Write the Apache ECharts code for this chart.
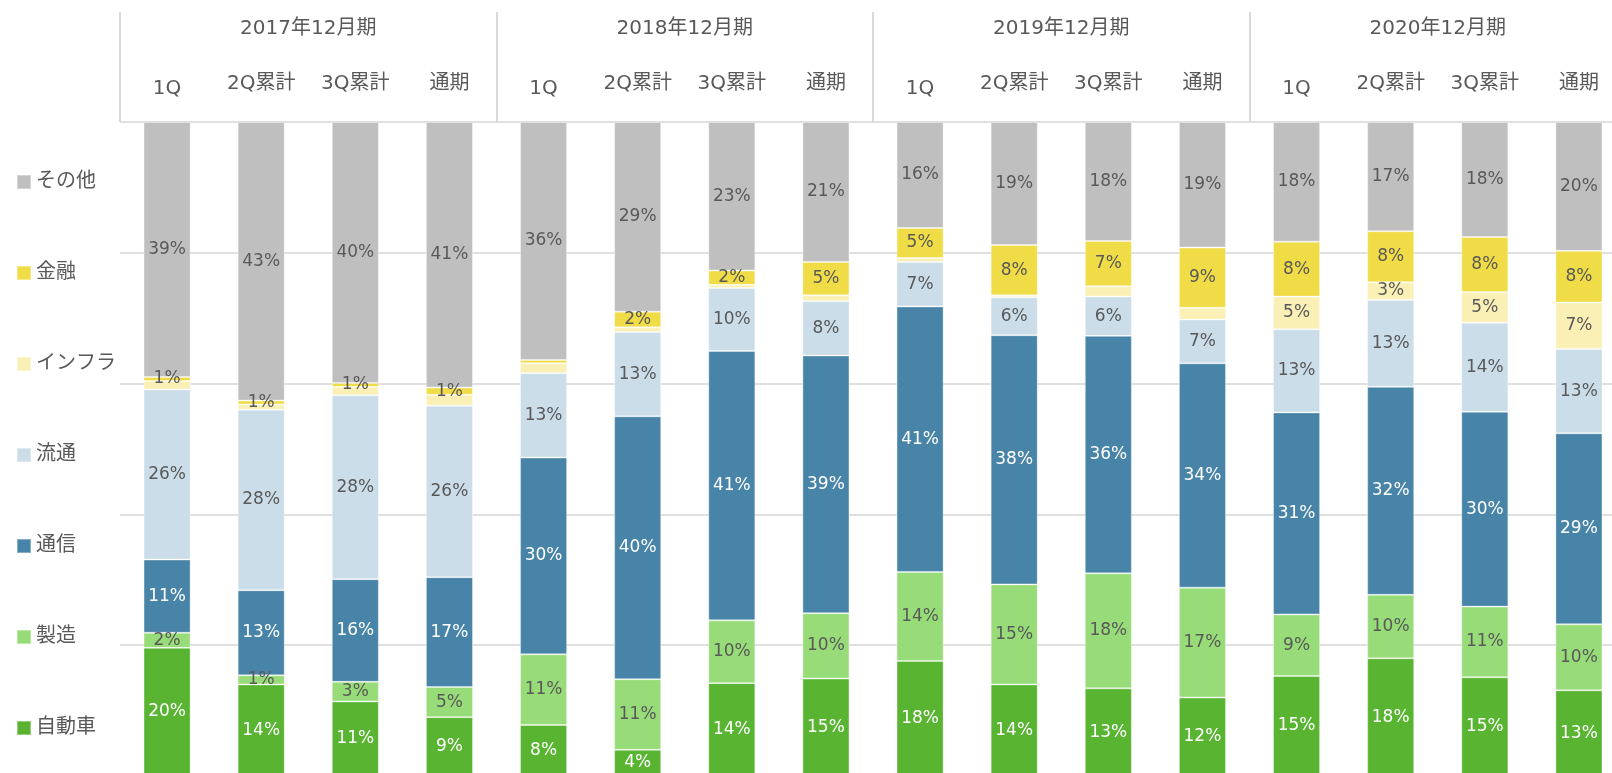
<!DOCTYPE html>
<html><head><meta charset="utf-8">
<script src="https://cdn.jsdelivr.net/npm/echarts@6/dist/echarts.min.js"></script>
<style>html,body{margin:0;padding:0;background:#fff;overflow:hidden}#c{width:1612px;height:773px}</style>
</head><body><div id="c"></div>
<script>
// ---- data ----
const years = ['2017年12月期', '2018年12月期', '2019年12月期', '2020年12月期'];
const periods = ['1Q', '2Q累計', '3Q累計', '通期'];
const seriesNames = ['自動車', '製造', '通信', '流通', 'インフラ', '金融', 'その他'];
const auto     = [19.6, 14.0, 11.4, 9.0,  7.8, 4.0, 14.2, 14.9,  17.6, 14.0, 13.4, 12.0,  15.3, 18.0, 15.1, 13.1];
const mfg      = [2.3, 1.4, 3.0, 4.6,  10.8, 10.8, 9.6, 10.0,  13.6, 15.3, 17.6, 16.8,  9.4, 9.7, 10.8, 10.1];
const telecom  = [11.2, 13.0, 15.7, 16.8,  30.1, 40.2, 41.2, 39.4,  40.6, 38.1, 36.3, 34.3,  30.9, 31.8, 29.8, 29.2];
const distrib  = [26.0, 27.6, 28.1, 26.2,  12.9, 12.9, 9.6, 8.3,  6.8, 5.8, 6.0, 6.7,  12.7, 13.3, 13.6, 12.9];
const infra    = [1.3, 0.8, 1.3, 1.7,  1.5, 0.7, 0.5, 0.9,  0.6, 0.3, 1.6, 1.8,  5.0, 2.7, 4.7, 7.1];
const finance  = [0.6, 0.6, 0.6, 1.1,  0.5, 2.4, 2.2, 5.1,  4.6, 7.7, 6.9, 9.2,  8.4, 7.8, 8.4, 7.9];
const other    = [39.0, 42.6, 39.9, 40.6,  36.4, 29.0, 22.7, 21.4,  16.2, 18.8, 18.2, 19.2,  18.3, 16.7, 17.6, 19.7];
const yTicks = [0, 20, 40, 60, 80, 100];
// labels not displayed in the original (by category index)
const hiddenLabels = { 'インフラ': [0,1,2,3,4,5,6,7,8,9,10,11], '金融': [4] };

// ---- build ----
const categories = [];
years.forEach(y => periods.forEach(p => categories.push(y + '|' + p)));
const values = [auto, mfg, telecom, distrib, infra, finance, other];
const colors = ['#58B431', '#97DC78', '#4884A8', '#CADDE9', '#FAF0B6', '#F0DC46', '#BFBFBF'];
const labelColors = ['#ffffff', '#595959', '#ffffff', '#595959', '#595959', '#595959', '#595959'];
const FONT = "'DejaVu Sans', 'Noto Sans CJK JP', sans-serif";

const series = seriesNames.map((name, si) => ({
  name, type: 'bar', stack: 'total', barWidth: '50%',
  itemStyle: { color: colors[si], borderColor: 'rgba(255,255,255,0.35)', borderWidth: 1 },
  label: {
    show: true, position: 'inside', color: labelColors[si],
    fontSize: 17, fontFamily: FONT,
    formatter: p => Math.round(p.value) + '%'
  },
  data: values[si].map((v, i) => {
    const hide = (hiddenLabels[name] || []).includes(i);
    return hide ? { value: v, label: { show: false } } : v;
  })
}));

const chart = echarts.init(document.getElementById('c'), null, { renderer: 'canvas' });
chart.setOption({
  animation: false,
  backgroundColor: '#ffffff',
  textStyle: { fontFamily: FONT },
  legend: {
    orient: 'vertical', left: 16, top: 172, padding: 0,
    data: seriesNames.slice().reverse(),
    icon: 'rect', itemWidth: 14, itemHeight: 14, itemGap: 71,
    textStyle: { fontSize: 20, color: '#595959', fontFamily: FONT, lineHeight: 20 },
    selectedMode: false
  },
  grid: { left: 120, top: 122, width: 1506, height: 654, outerBoundsMode: 'none', containLabel: false },
  xAxis: [
    {
      type: 'category', data: categories, position: 'top', gridIndex: 0,
      axisLine: { show: false }, axisTick: { show: false },
      axisLabel: {
        interval: 0, margin: 23, color: '#595959', fontSize: 20, fontFamily: FONT,
        formatter: v => { const p = v.split('|')[1]; return p === '1Q' ? '{a|' + p + '}' : '{b|' + p + '}'; },
        rich: {
          a: { fontSize: 20, color: '#595959', fontFamily: FONT },
          b: { fontSize: 20, color: '#595959', fontFamily: FONT, padding: [0, 0, 5, 0] }
        }
      }
    },
    {
      type: 'category', data: years, position: 'top', gridIndex: 0,
      axisLine: { show: false },
      axisTick: { show: true, length: 110, interval: 0, lineStyle: { color: '#d9d9d9', width: 2 } },
      axisLabel: { interval: 0, margin: 83, color: '#595959', fontSize: 20, fontFamily: FONT }
    }
  ],
  yAxis: {
    type: 'value', min: yTicks[0], max: yTicks[yTicks.length - 1], interval: 20,
    axisLine: { show: false }, axisTick: { show: false }, axisLabel: { show: false },
    splitLine: { show: true, lineStyle: { color: '#e0e0e0', width: 2 } }
  },
  series
});
</script></body></html>
